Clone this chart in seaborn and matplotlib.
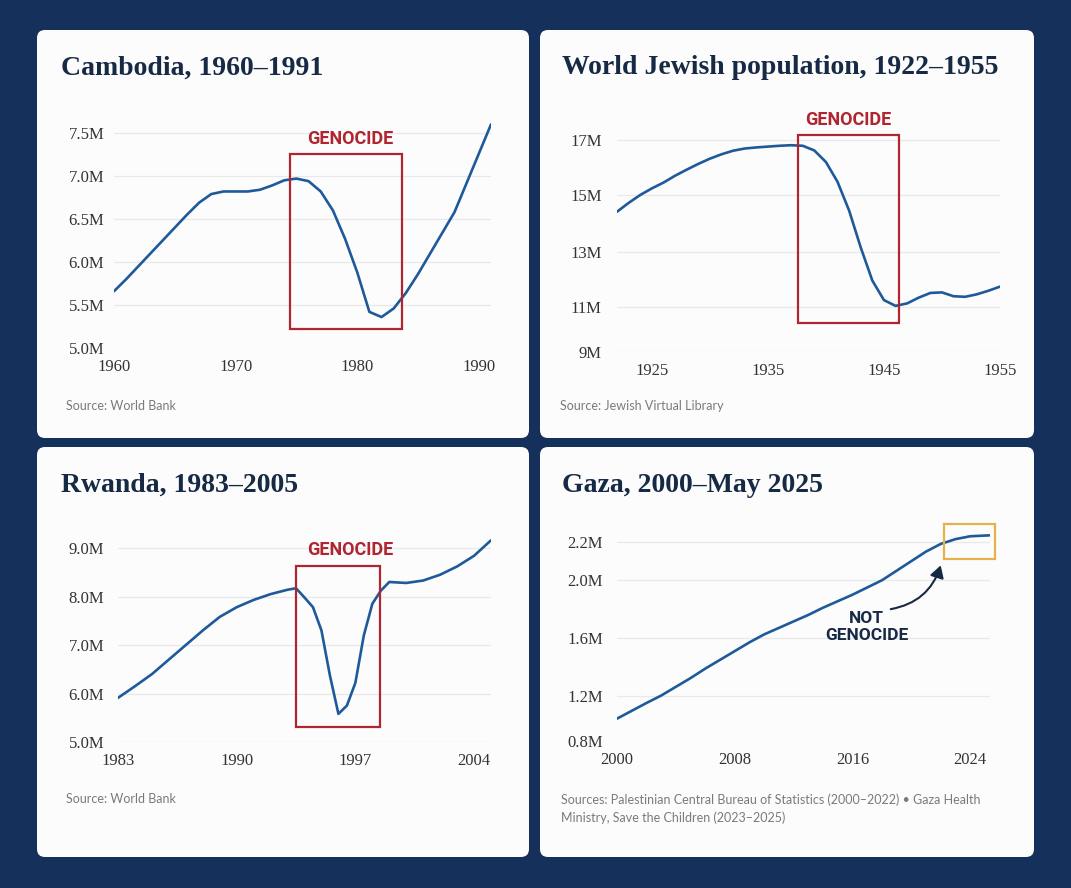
import matplotlib
matplotlib.use("Agg")
import matplotlib.pyplot as plt
import numpy as np
import seaborn as sns
from matplotlib.patches import FancyBboxPatch, Rectangle

# --- data ---
cam_years = list(range(1960, 1992))
cam_pop = [5.66, 5.80, 5.95, 6.10, 6.25, 6.40, 6.55, 6.69, 6.79, 6.82, 6.82, 6.82,
           6.84, 6.89, 6.95, 6.97, 6.94, 6.82, 6.60, 6.27, 5.88, 5.42, 5.36, 5.46,
           5.64, 5.86, 6.10, 6.34, 6.58, 6.92, 7.26, 7.60]

jew_years = list(range(1922, 1956))
jew_pop = [14.41, 14.72, 15.00, 15.24, 15.45, 15.70, 15.92, 16.13, 16.32, 16.48,
           16.61, 16.69, 16.73, 16.76, 16.79, 16.81, 16.79, 16.62, 16.20, 15.48,
           14.45, 13.15, 11.95, 11.24, 11.03, 11.12, 11.33, 11.50, 11.52, 11.38,
           11.36, 11.45, 11.58, 11.73]

rw_years = [1983, 1984, 1985, 1986, 1987, 1988, 1989, 1990, 1991, 1992, 1993, 1993.5,
            1994, 1994.5, 1995, 1995.5, 1996, 1996.5, 1997, 1997.5, 1998, 1998.5,
            1999, 2000, 2001, 2002, 2003, 2004, 2005]
rw_pop = [5.91, 6.15, 6.40, 6.70, 7.00, 7.30, 7.58, 7.78, 7.93, 8.05, 8.14, 8.17,
          7.98, 7.78, 7.30, 6.37, 5.58, 5.75, 6.22, 7.20, 7.85, 8.12,
          8.30, 8.28, 8.33, 8.45, 8.62, 8.84, 9.16]

gaza_years = list(range(2000, 2025)) + [2025.35]
gaza_pop = [1.00, 1.07, 1.14, 1.205, 1.265, 1.325, 1.39, 1.45, 1.51, 1.57, 1.625,
            1.67, 1.715, 1.76, 1.81, 1.855, 1.90, 1.95, 2.00, 2.05, 2.10, 2.15,
            2.19, 2.215, 2.23, 2.235]

titles = ["Cambodia, 1960\u20131991", "World Jewish population, 1922\u20131955",
          "Rwanda, 1983\u20132005", "Gaza, 2000\u2013May 2025"]
sources = ["Source: World Bank", "Source: Jewish Virtual Library", "Source: World Bank",
           "Sources: Palestinian Central Bureau of Statistics (2000\u20132022) \u2022 Gaza Health\n"
           "Ministry, Save the Children (2023\u20132025)"]

cam_yticks = [5.0, 5.5, 6.0, 6.5, 7.0, 7.5]
cam_ylabels = ["5.0M", "5.5M", "6.0M", "6.5M", "7.0M", "7.5M"]
cam_xticks = [1960, 1970, 1980, 1990]
jew_yticks = [9, 11, 13, 15, 17]
jew_ylabels = ["9M", "11M", "13M", "15M", "17M"]
jew_xticks = [1925, 1935, 1945, 1955]
rw_yticks = [5.0, 6.0, 7.0, 8.0, 9.0]
rw_ylabels = ["5.0M", "6.0M", "7.0M", "8.0M", "9.0M"]
rw_xticks = [1983, 1990, 1997, 2004]
gaza_yticks = [0.8, 1.2, 1.6, 2.0, 2.2]
gaza_ylabels = ["0.8M", "1.2M", "1.6M", "2.0M", "2.2M"]
gaza_xticks = [2000, 2008, 2016, 2024]

# --- colours ---
BG = "#15305a"
CARD = "#fcfcfc"
NAVY = "#172a45"
LINE = "#1e5a9a"
RED = "#b02530"
ORANGE = "#e8b04a"
GRID = "#e9e9e9"
TICK = "#333333"
SRC = "#7a7a7a"

sns.set_theme(style="white")
plt.rcParams["font.family"] = ["Liberation Serif", "DejaVu Serif"]

W, H = 1071, 888
fig = plt.figure(figsize=(W / 100, H / 100), dpi=100, facecolor=BG)


def rect(x0, y0, x1, y1):
    # pixel box (top-left origin) -> figure fraction
    return [x0 / W, 1 - y1 / H, (x1 - x0) / W, (y1 - y0) / H]


# rounded white cards (behind the axes)
for (x0, y0, x1, y1) in [(37, 30, 529, 438), (540, 30, 1034, 438),
                         (37, 447, 529, 857), (540, 447, 1034, 857)]:
    card = FancyBboxPatch((x0 / 100, (H - y1) / 100), (x1 - x0) / 100, (y1 - y0) / 100,
                          boxstyle="round,pad=0,rounding_size=0.08",
                          transform=fig.dpi_scale_trans, facecolor=CARD, edgecolor="none",
                          zorder=-10)
    fig.patches.append(card)


def piecewise_scale(ax, vals, pys):
    vals = np.asarray(vals, float)
    pos = -np.asarray(pys, float)
    fwd = lambda v: np.interp(v, vals, pos)
    inv = lambda p: np.interp(p, pos, vals)
    ax.set_yscale("function", functions=(fwd, inv))


def style_axes(ax, xticks, yticks, ylabels, ypad):
    ax.set_facecolor("none")
    for s in ax.spines.values():
        s.set_visible(False)
    ax.set_xticks(xticks)
    ax.set_xticklabels([str(t) for t in xticks])
    ax.set_yticks(yticks)
    ax.set_yticklabels(ylabels)
    ax.tick_params(axis="x", length=0, pad=8, labelsize=12, labelcolor=TICK)
    ax.tick_params(axis="y", length=0, pad=ypad, labelsize=12, labelcolor=TICK)
    ax.yaxis.grid(True, color=GRID, lw=0.9)
    ax.xaxis.grid(False)
    ax.set_xlabel("")
    ax.set_ylabel("")


def genocide_box(ax, x0, x1, y0, y1, tx, ty):
    ax.add_patch(Rectangle((x0, y0), x1 - x0, y1 - y0, fill=False, edgecolor=RED,
                           lw=1.6, clip_on=False, zorder=3))
    ax.text(tx, ty, "GENOCIDE", color=RED, ha="center", va="center", fontsize=13,
            fontweight="bold", family=["Roboto", "DejaVu Sans"], clip_on=False)


# --- Cambodia ---
ax1 = fig.add_axes(rect(114, 115.8, 491, 348))
sns.lineplot(x=cam_years, y=cam_pop, ax=ax1, color=LINE, lw=1.9)
ax1.set_xlim(1960, 1991)
ax1.set_ylim(5.0, 7.7)
style_axes(ax1, cam_xticks, cam_yticks, cam_ylabels, 7)
genocide_box(ax1, 1974.5, 1983.65, 5.22, 7.26, 1979.45, 7.43)

# --- World Jewish population ---
ax2 = fig.add_axes(rect(617, 112.5, 1000, 351.7))
piecewise_scale(ax2, [0, 9, 11, 13, 15, 17, 40],
                [351.7 + 9 * 22.5, 351.7, 306.7, 251.7, 195, 140, 140 - 23 * 27.5])
sns.lineplot(x=jew_years, y=jew_pop, ax=ax2, color=LINE, lw=1.9)
ax2.set_xlim(1922, 1955)
ax2.set_ylim(9, 18)
style_axes(ax2, jew_xticks, jew_yticks, jew_ylabels, 11)
genocide_box(ax2, 1937.6, 1946.3, 10.29, 17.18, 1941.9, 17.73)

# --- Rwanda ---
ax3 = fig.add_axes(rect(118, 533.5, 491, 742))
sns.lineplot(x=rw_years, y=rw_pop, ax=ax3, color=LINE, lw=1.9)
ax3.set_xlim(1983, 2005)
ax3.set_ylim(5.0, 9.3)
style_axes(ax3, rw_xticks, rw_yticks, rw_ylabels, 10)
genocide_box(ax3, 1993.49, 1998.46, 5.31, 8.63, 1996.7, 8.95)

# --- Gaza ---
ax4 = fig.add_axes(rect(617, 513.3, 990, 741))
piecewise_scale(ax4, [0.0, 0.8, 1.2, 1.6, 2.0, 2.2, 4.0],
                [741 + 0.8 * 111.7, 741, 696.3, 638, 580.3, 542, 542 - 1.8 * 191.5])
sns.lineplot(x=gaza_years, y=gaza_pop, ax=ax4, color=LINE, lw=1.9)
ax4.set_xlim(2000, 2025.35)
ax4.set_ylim(0.8, 2.35)
style_axes(ax4, gaza_xticks, gaza_yticks, gaza_ylabels, 10)
ax4.add_patch(Rectangle((2022.2, 2.113), 3.47, 0.183, fill=False, edgecolor=ORANGE,
                        lw=1.6, clip_on=False, zorder=3))
ax4.text(2016.96, 1.676, "NOT\nGENOCIDE", color=NAVY, ha="center", va="center",
         fontsize=12.5, fontweight="bold", family=["Roboto", "DejaVu Sans"], linespacing=1.2)
ax4.annotate("", xy=(2022.0, 2.078), xytext=(2018.6, 1.80),
             arrowprops=dict(arrowstyle="-|>,head_length=0.6,head_width=0.35", color=NAVY,
                             lw=1.5, connectionstyle="arc3,rad=0.3", shrinkA=0, shrinkB=0))

# --- titles and sources ---
for (tx, ty), t in zip([(61, 68), (562, 68), (61, 485), (562, 485)], titles):
    fig.text(tx / W, 1 - ty / H, t, color=NAVY, fontsize=20, fontweight="bold",
             ha="left", va="center")
for (sx, sy), s in zip([(66, 406), (560, 406), (66, 799), (561, 809)], sources):
    fig.text(sx / W, 1 - sy / H, s, color=SRC, fontsize=9, ha="left", va="center",
             family=["Lato", "DejaVu Sans"], linespacing=1.5)

fig.savefig("out.png", dpi=100, facecolor=BG)
